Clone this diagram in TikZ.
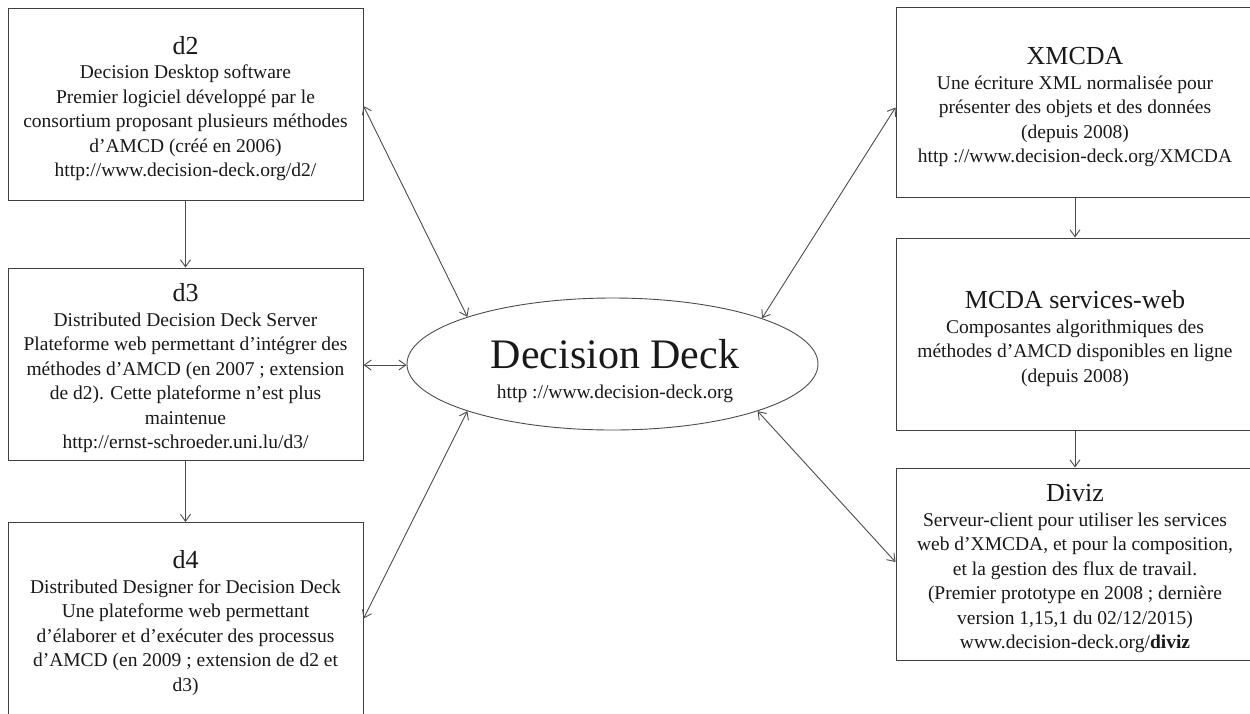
\documentclass[tikz,border=0pt]{standalone}
\usepackage{fontspec}
\setmainfont{Liberation Serif}
\usetikzlibrary{shapes.geometric,arrows.meta}
\tikzset{
  box/.style={draw=black!75, line width=1pt, rectangle, align=center, inner sep=0pt,
    font=\fontsize{19.5}{24.5}\selectfont, text=black!90},
  lbox/.style={box, minimum width=355pt, minimum height=192pt},
  rbox/.style={box, minimum width=358pt, minimum height=190pt},
  con/.style={draw=black!70, line width=0.9pt, {Straight Barb[length=7pt,width=10pt]}-{Straight Barb[length=7pt,width=10pt]}},
  down/.style={draw=black!70, line width=0.9pt, -{Straight Barb[length=7pt,width=10pt]}},
  ddtext/.style={inner sep=0pt, anchor=base, text=black!90},
}
\newcommand{\ttl}[1]{{\fontsize{26}{26}\selectfont\rule{0pt}{27pt}#1}}
\begin{document}
\begin{tikzpicture}[x=1pt,y=-1pt]
\clip (0,0) rectangle (1250,713);
\fill[white] (0,0) rectangle (1250,713);

\node[lbox] (d2) at (185.5,104) {\ttl{d2}\\Decision Desktop  software\\Premier logiciel développé  par le\\consortium  proposant plusieurs méthodes\\d’AMCD  (créé en 2006)\\http://www.decision-deck.org/d2/};
\node[lbox] (d3) at (185.5,364) {\ttl{d3}\\Distributed Decision Deck Server\\Plateforme web permettant  d’intégrer des\\méthodes d’AMCD (en 2007 ; extension\\de d2). Cette plateforme n’est plus\\maintenue\\http://ernst-schroeder.uni.lu/d3/};
\node[lbox] (d4) at (185.5,618.5) {\ttl{d4}\\Distributed Designer for Decision Deck\\Une plateforme  web permettant\\d’élaborer et d’exécuter des processus\\d’AMCD (en 2009 ; extension de d2 et\\d3)};

\node[rbox] (xm) at (1075,102.5) {\ttl{XMCDA}\\Une  écriture XML normalisée pour\\présenter des objets et des données\\(depuis 2008)\\http  ://www.decision-deck.org/XMCDA};
\node[rbox, minimum height=192pt] (ws) at (1075,334) {\ttl{MCDA services-web}\\Composantes  algorithmiques des\\méthodes d’AMCD disponibles en ligne\\(depuis 2008)};
\node[rbox, minimum height=192pt] (dv) at (1075,564) {\ttl{Diviz}\\Serveur-client pour utiliser les services\\web d’XMCDA,  et pour la composition,\\et la gestion des flux de travail.\\(Premier prototype en 2008 ; dernière\\version 1,15,1 du 02/12/2015)\\www.decision-deck.org/\textbf{diviz}};

\node[draw=black!70, line width=0.9pt, ellipse, inner sep=0pt, minimum width=411pt, minimum height=132pt] (dd) at (612.5,364) {};
\node[ddtext, font=\fontsize{42}{42}\selectfont] (ddt) at (615,368) {Decision Deck};
\node[ddtext, font=\fontsize{19.5}{24}\selectfont] (ddu) at (615,398) {http  ://www.decision-deck.org};

\draw[down] (d2.south) -- (d3.north);
\draw[down] (d3.south) -- (d4.north);
\draw[down] (xm.south) -- (ws.north);
\draw[down] (ws.south) -- (dv.north);

\draw[con] ([yshift=-2pt]d2.east) -- (dd.162);
\draw[con] ([yshift=-1pt]d3.east) -- ([yshift=-1pt]d3.east -| dd.west);
\draw[con] (d4.east) -- (dd.198.7);
\draw[con] ([yshift=-5pt]xm.west) -- (dd.17);
\draw[con] ([yshift=2pt]dv.west) -- (dd.342.5);
\end{tikzpicture}
\end{document}
